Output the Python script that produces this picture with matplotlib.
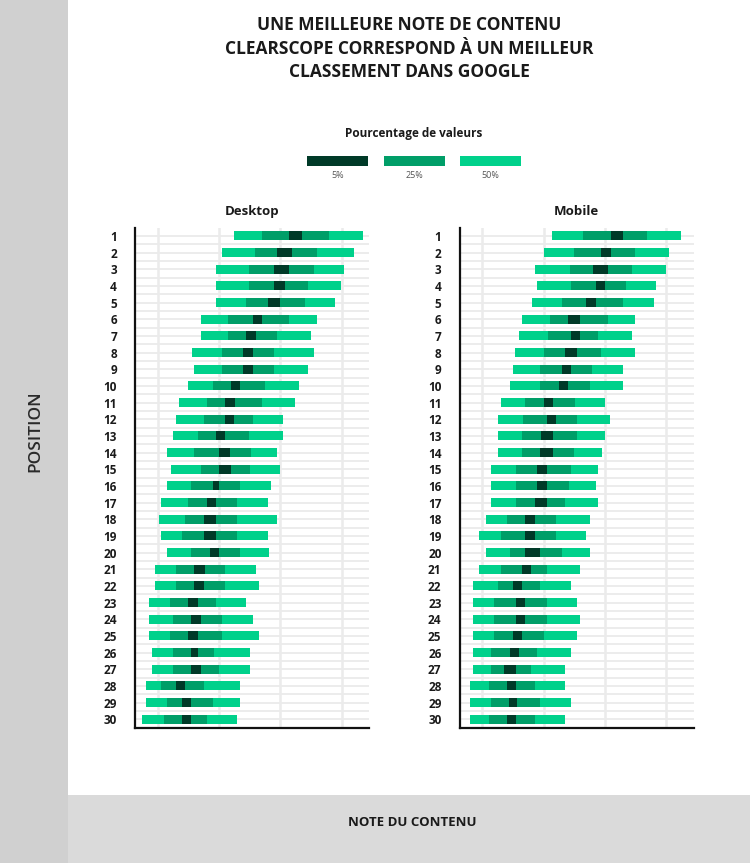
import numpy as np
import matplotlib
matplotlib.use("Agg")
import matplotlib.pyplot as plt
from matplotlib import patches

# positions 1..30
positions = list(range(1, 31))

# desktop: percentile edges (50% low, 25% low, 5% low, 5% high, 25% high, 50% high)
desk_p50_lo = [45.0, 41.0, 39.0, 39.0, 39.0, 34.0, 34.0, 31.1, 32.0, 30.0,
               27.0, 26.0, 25.0, 23.0, 24.2, 23.0, 21.0, 20.5, 21.0, 23.0,
               19.0, 19.0, 17.1, 17.1, 17.1, 18.0, 18.0, 16.1, 16.1, 15.0]
desk_p25_lo = [54.0, 51.8, 49.9, 49.9, 48.9, 42.9, 42.9, 41.0, 41.0, 37.9,
               36.0, 35.0, 33.0, 32.0, 34.0, 31.0, 30.0, 29.0, 28.0, 31.0,
               26.0, 26.0, 24.0, 25.0, 24.0, 25.0, 25.0, 21.0, 23.0, 22.0]
desk_p5_lo = [62.9, 58.9, 57.9, 57.9, 56.0, 51.0, 48.9, 47.9, 47.9, 43.9,
              42.0, 42.0, 39.0, 40.0, 40.0, 37.9, 36.0, 35.0, 35.0, 37.0,
              32.0, 32.0, 30.0, 31.0, 30.0, 31.0, 31.0, 26.0, 28.0, 28.0]
desk_p5_hi = [67.0, 63.9, 62.9, 61.4, 59.9, 53.9, 52.0, 51.0, 51.0, 47.0,
              45.3, 45.0, 42.0, 43.7, 44.0, 40.0, 39.0, 39.0, 39.0, 40.0,
              35.4, 35.0, 33.0, 34.0, 33.0, 33.0, 34.0, 29.0, 31.0, 31.0]
desk_p25_hi = [76.0, 72.0, 70.9, 68.9, 67.9, 62.9, 58.9, 57.9, 57.9, 54.9,
               54.0, 51.0, 49.9, 50.3, 50.0, 47.0, 46.0, 46.0, 46.0, 47.0,
               42.0, 42.0, 39.0, 41.0, 41.0, 38.5, 40.0, 35.0, 37.9, 36.0]
desk_p50_hi = [86.8, 83.9, 80.9, 79.9, 77.9, 72.0, 69.9, 70.9, 68.9, 66.0,
               64.9, 60.9, 60.9, 58.9, 59.9, 57.0, 56.0, 58.9, 56.0, 56.4,
               52.2, 52.9, 48.9, 51.0, 52.9, 50.0, 50.0, 47.0, 47.0, 46.0]

# mobile
mob_p50_lo = [42.9, 40.0, 37.1, 38.0, 36.1, 33.0, 32.1, 30.8, 30.0, 29.0,
              26.1, 25.0, 25.0, 25.0, 23.0, 23.0, 23.0, 21.1, 19.0, 21.1,
              19.0, 17.1, 17.1, 17.1, 17.1, 17.1, 17.1, 16.1, 16.1, 16.1]
mob_p25_lo = [52.9, 50.0, 48.5, 49.0, 46.0, 42.0, 41.3, 40.0, 39.0, 39.0,
              34.0, 33.4, 33.0, 33.0, 31.1, 31.1, 31.1, 28.0, 26.1, 29.0,
              26.1, 25.0, 24.0, 24.0, 24.0, 23.0, 23.0, 22.1, 23.0, 22.1]
mob_p5_lo = [62.0, 58.9, 56.0, 57.0, 53.9, 48.0, 49.0, 47.0, 46.0, 45.0,
             40.0, 41.0, 39.3, 39.0, 38.0, 38.0, 37.1, 34.0, 34.0, 34.0,
             33.0, 30.0, 31.0, 31.0, 30.0, 29.0, 27.1, 28.0, 28.8, 28.0]
mob_p5_hi = [66.0, 62.0, 61.0, 60.0, 57.0, 52.0, 52.0, 51.0, 49.0, 48.0,
             43.0, 44.0, 43.0, 43.0, 41.1, 41.1, 41.1, 37.1, 37.1, 39.0,
             35.8, 33.0, 34.0, 34.0, 33.0, 32.1, 31.0, 31.0, 31.3, 31.0]
mob_p25_hi = [73.9, 69.7, 68.9, 67.0, 66.0, 61.0, 57.9, 58.9, 55.9, 55.0,
              50.3, 51.0, 51.0, 50.0, 49.0, 48.3, 47.0, 44.0, 44.0, 46.0,
              41.0, 39.0, 41.0, 41.0, 40.0, 38.0, 36.0, 37.1, 39.0, 37.1]
mob_p50_hi = [84.9, 80.9, 79.9, 76.8, 75.9, 69.9, 68.9, 69.9, 66.0, 66.0,
              60.0, 61.6, 60.0, 59.2, 57.9, 57.0, 57.9, 55.0, 54.0, 55.0,
              52.0, 49.0, 51.0, 52.0, 51.0, 49.0, 47.0, 47.0, 49.0, 47.0]

legend_labels = ["5%", "25%", "50%"]
title_lines = ["UNE MEILLEURE NOTE DE CONTENU",
               "CLEARSCOPE CORRESPOND À UN MEILLEUR",
               "CLASSEMENT DANS GOOGLE"]

c_light = "#00d18b"
c_mid = "#009e68"
c_dark = "#003a28"
grid_c = "#ebebeb"
txt = "#1a1a1a"

plt.rcParams['font.family'] = ['Open Sans', 'DejaVu Sans']

fig = plt.figure(figsize=(7.5, 8.63), dpi=100)
W, H = 750.0, 863.0

# gray frame (left side bar and bottom band)
fig.patches.append(patches.Rectangle((0, 0), 68 / W, 1, transform=fig.transFigure,
                                     facecolor="#d0d0d0", edgecolor="none", zorder=0))
fig.patches.append(patches.Rectangle((68 / W, 0), 1 - 68 / W, 68 / H, transform=fig.transFigure,
                                     facecolor="#dadada", edgecolor="none", zorder=0))

for i, line in enumerate(title_lines):
    fig.text(409 / W, 1 - (25 + 23.5 * i) / H, line, ha="center", va="center",
             fontsize=12.5, fontweight="bold", color=txt)

fig.text(414 / W, 1 - 134 / H, "Pourcentage de valeurs", ha="center", va="center",
         fontsize=8.5, fontweight="bold", color=txt)
leg_cols = [c_dark, c_mid, c_light]
for k, (lab, col) in enumerate(zip(legend_labels, leg_cols)):
    x0 = 307 + 76.5 * k
    fig.patches.append(patches.Rectangle((x0 / W, 1 - 166 / H), 61 / W, 10 / H,
                                         transform=fig.transFigure, facecolor=col,
                                         edgecolor="none"))
    fig.text((x0 + 30.5) / W, 1 - 175 / H, lab, ha="center", va="center",
             fontsize=6.5, color="#555555")

fig.text(35 / W, 432 / H, "POSITION", rotation=90, ha="center", va="center",
         fontsize=12.5, fontweight="semibold", color="#2a2a2a")
fig.text(412 / W, 1 - 822 / H, "NOTE DU CONTENU", ha="center", va="center",
         fontsize=9.5, fontweight="bold", color="#1a1a1a")

panels = [
    ("Desktop", 135, [desk_p50_lo, desk_p25_lo, desk_p5_lo, desk_p5_hi, desk_p25_hi, desk_p50_hi]),
    ("Mobile", 459.5, [mob_p50_lo, mob_p25_lo, mob_p5_lo, mob_p5_hi, mob_p25_hi, mob_p50_hi]),
]

for name, left_px, edges in panels:
    ax = fig.add_axes([left_px / W, 1 - 727.5 / H, 234 / W, 500 / H])
    a, b, c, d, e, f = [np.array(v) for v in edges]
    y = np.array(positions)
    h = 0.54
    ax.barh(y, f - a, left=a, height=h, color=c_light, zorder=3)
    ax.barh(y, e - b, left=b, height=h, color=c_mid, zorder=4)
    ax.barh(y, d - c, left=c, height=h, color=c_dark, zorder=5)

    ax.set_xlim(12.6, 88.9)
    ax.set_ylim(30.5, 0.5)
    for gx in [20, 40, 60, 80]:
        ax.axvline(gx, color=grid_c, lw=1.8, zorder=1)
    for gy in np.arange(1.0, 31.0, 0.5):
        ax.axhline(gy, color=grid_c, lw=1.3, zorder=1)

    ax.set_yticks(positions)
    ax.set_yticklabels([str(p) for p in positions], fontsize=8.5,
                       fontweight="bold", color=txt)
    ax.tick_params(axis="y", length=0, pad=13)
    ax.set_xticks([])
    for s in ["top", "right"]:
        ax.spines[s].set_visible(False)
    for s in ["left", "bottom"]:
        ax.spines[s].set_linewidth(1.6)
        ax.spines[s].set_color("#111111")
    ax.set_title(name, fontsize=9.5, fontweight="bold", color=txt, pad=9)

fig.savefig("out.png", dpi=100, facecolor="white")
